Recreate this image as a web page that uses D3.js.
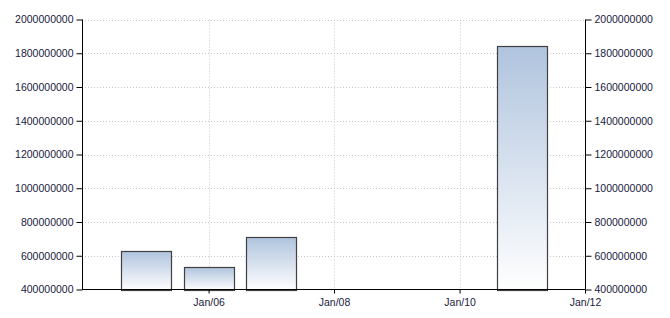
<!DOCTYPE html>
<html>
<head>
<meta charset="utf-8">
<script src="https://cdn.jsdelivr.net/npm/d3@7"></script>
<style>
  body { margin: 0; background: #fff; }
  .axis text { font-family: "Liberation Sans", Arial, sans-serif; font-size: 10.5px; fill: #1a1a40; }
  .axis path, .axis line { stroke: #000; }
</style>
</head>
<body>
<script>
// yearly values, bar centred on January of each year
var years = [2005, 2006, 2007, 2011];
var values = [631000000, 531000000, 709000000, 1842000000];
var yTicks = [400000000, 600000000, 800000000, 1000000000, 1200000000, 1400000000, 1600000000, 1800000000, 2000000000];
var xTickYears = [2006, 2008, 2010, 2012];

var width = 670, height = 318;
var plotL = 82, plotR = 585, plotT = 19.5, plotB = 289.5;

var svg = d3.select("body").append("svg")
    .attr("width", width)
    .attr("height", height);

var defs = svg.append("defs");
var grad = defs.append("linearGradient")
    .attr("id", "barGrad")
    .attr("x1", 0).attr("y1", 0).attr("x2", 0).attr("y2", 1);
grad.append("stop").attr("offset", "0%").attr("stop-color", "#b0c4de");
grad.append("stop").attr("offset", "100%").attr("stop-color", "#ffffff");

var x = d3.scaleTime()
    .domain([new Date(2004, 0, 1), new Date(2012, 0, 1)])
    .range([plotL + 1, plotR]);

var y = d3.scaleLinear()
    .domain([400000000, 2000000000])
    .range([plotB, plotT]);

// grid
svg.append("g").selectAll("line")
    .data(yTicks.slice(1))
    .enter().append("line")
    .attr("x1", plotL).attr("x2", plotR)
    .attr("y1", function(d) { return Math.round(y(d)) + 0.5; })
    .attr("y2", function(d) { return Math.round(y(d)) + 0.5; })
    .attr("stroke", "#c8c8c8")
    .attr("stroke-dasharray", "1,2");

svg.append("g").selectAll("line")
    .data(xTickYears.slice(0, 3))
    .enter().append("line")
    .attr("x1", function(d) { return Math.round(x(new Date(d, 0, 1))) + 0.5; })
    .attr("x2", function(d) { return Math.round(x(new Date(d, 0, 1))) + 0.5; })
    .attr("y1", plotT).attr("y2", plotB)
    .attr("stroke", "#c8c8c8")
    .attr("stroke-dasharray", "1,2");

// bars
var barW = 50;
svg.append("g").selectAll("rect")
    .data(years)
    .enter().append("rect")
    .attr("x", function(d) { return Math.round(x(new Date(d, 0, 1)) - barW / 2) + 0.5; })
    .attr("y", function(d, i) { return Math.round(y(values[i])) + 0.5; })
    .attr("width", barW)
    .attr("height", function(d, i) { return Math.round(plotB) - Math.round(y(values[i])); })
    .attr("fill", "url(#barGrad)")
    .attr("stroke", "#404040")
    .attr("stroke-width", 1.2);

// axes
var yAxisL = d3.axisLeft(y).tickValues(yTicks).tickSize(6).tickPadding(3)
    .tickFormat(d3.format("d"));
svg.append("g").attr("class", "axis")
    .attr("transform", "translate(" + (plotL + 0.5) + ",0)")
    .call(yAxisL)
    .call(function(g) { g.select(".domain").attr("d", "M0," + plotT + "V" + plotB); });

var yAxisR = d3.axisRight(y).tickValues(yTicks).tickSize(6).tickPadding(3)
    .tickFormat(d3.format("d"));
svg.append("g").attr("class", "axis")
    .attr("transform", "translate(" + (plotR + 0.5) + ",0)")
    .call(yAxisR)
    .call(function(g) { g.select(".domain").attr("d", "M0," + plotT + "V" + plotB); });

var xAxis = d3.axisBottom(x)
    .tickValues(xTickYears.map(function(d) { return new Date(d, 0, 1); }))
    .tickSize(4).tickPadding(5)
    .tickFormat(d3.timeFormat("Jan/%y"));
svg.append("g").attr("class", "axis")
    .attr("transform", "translate(0," + plotB + ")")
    .call(xAxis)
    .call(function(g) { g.select(".domain").attr("d", "M" + plotL + ",0H" + plotR); });
</script>
</body>
</html>
